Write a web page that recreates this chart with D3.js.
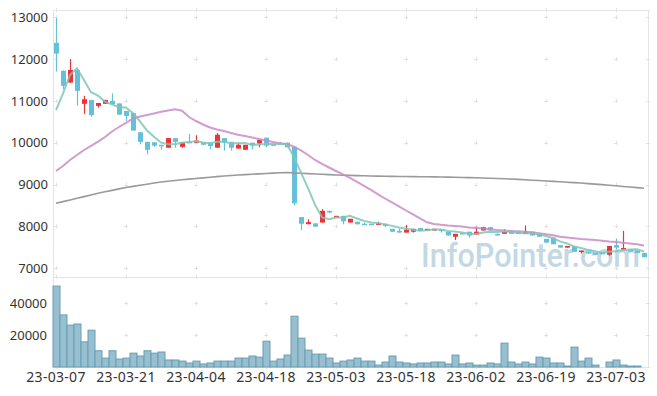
<!DOCTYPE html>
<html>
<head>
<meta charset="utf-8">
<script src="https://cdn.jsdelivr.net/npm/d3@7"></script>
<style>
  body { margin: 0; background: #fff; }
  text { font-family: "Noto Sans", sans-serif; fill: #333; }
</style>
</head>
<body>
<div id="chart"></div>
<script>

var dates = ["23-03-07","23-03-08","23-03-09","23-03-10","23-03-13","23-03-14","23-03-15","23-03-16","23-03-17","23-03-20",
  "23-03-21","23-03-22","23-03-23","23-03-24","23-03-27","23-03-28","23-03-29","23-03-30","23-03-31","23-04-03",
  "23-04-04","23-04-05","23-04-06","23-04-07","23-04-10","23-04-11","23-04-12","23-04-13","23-04-14","23-04-17",
  "23-04-18","23-04-19","23-04-20","23-04-21","23-04-24","23-04-25","23-04-26","23-04-27","23-04-28","23-05-02",
  "23-05-03","23-05-04","23-05-08","23-05-09","23-05-10","23-05-11","23-05-12","23-05-15","23-05-16","23-05-17",
  "23-05-18","23-05-19","23-05-22","23-05-23","23-05-24","23-05-25","23-05-26","23-05-30","23-05-31","23-06-01",
  "23-06-02","23-06-05","23-06-07","23-06-08","23-06-09","23-06-12","23-06-13","23-06-14","23-06-15","23-06-16",
  "23-06-19","23-06-20","23-06-21","23-06-22","23-06-23","23-06-26","23-06-27","23-06-28","23-06-29","23-06-30",
  "23-07-03","23-07-04","23-07-05","23-07-06","23-07-07"];

var open = [12390,11720,11440,11740,10930,11020,10880,10930,11000,10940,
  10760,10710,10250,10020,10010,9950,9880,10110,9900,10020,
  10000,10000,10000,9880,10110,10020,9860,9830,10000,9980,
  10120,9960,9990,10000,9900,8220,8050,8070,8090,8370,
  8210,8250,8090,8110,8060,8060,8050,8060,7940,7890,
  7850,7870,7960,7900,7900,7920,7870,7750,7840,7870,
  7800,7900,7980,7820,7820,7900,7870,7820,7870,7820,
  7700,7730,7550,7490,7520,7390,7390,7370,7370,7320,
  7550,7450,7430,7420,7360];

var high = [12980,11730,12000,11760,11120,11030,10950,11030,11180,10940,
  10760,10720,10250,10020,10010,9950,10110,10110,10010,10210,
  10180,10000,10000,10230,10110,10020,10000,9950,10000,10070,
  10120,9960,10020,10000,9900,8220,8170,8070,8410,8370,
  8250,8250,8180,8110,8090,8060,8110,8060,7940,7940,
  8030,7940,7960,7940,7940,7920,7870,7820,7840,7870,
  7990,7980,7980,7830,7930,7900,7870,8020,7870,7820,
  7700,7730,7550,7530,7520,7420,7390,7370,7370,7530,
  7710,7890,7430,7420,7360];

var low = [11700,11280,11430,10890,10690,10620,10840,10930,10920,10670,
  10520,10290,9960,9720,9900,9830,9880,9880,9880,9990,
  10000,9940,9840,9880,9810,9810,9860,9830,9840,9890,
  9890,9940,9960,9890,8500,7910,8050,7990,8090,8310,
  8210,8050,8090,8040,8050,8050,8050,7980,7870,7850,
  7850,7850,7890,7900,7900,7850,7780,7670,7820,7730,
  7800,7900,7900,7780,7820,7820,7820,7820,7780,7750,
  7610,7570,7490,7490,7390,7350,7340,7320,7330,7300,
  7450,7450,7400,7360,7260];

var close = [12130,11360,11740,11240,11040,10660,10950,11020,10920,10670,
  10640,10290,10020,9830,9930,9930,10110,10020,10010,10000,
  10050,9950,9920,10190,10000,9880,9950,9950,9940,10070,
  9930,9950,9960,9890,8550,8060,8100,7990,8370,8330,
  8250,8120,8180,8050,8050,8050,8070,8010,7870,7850,
  7920,7940,7890,7940,7940,7900,7780,7820,7820,7780,
  7870,7980,7900,7780,7870,7820,7820,7870,7780,7750,
  7610,7570,7490,7530,7390,7420,7350,7320,7330,7530,
  7490,7480,7400,7360,7260];

var volume = [50800,32700,26300,27000,15800,23100,10200,5600,10200,5000,
  5600,8700,6900,10200,8700,9400,4400,4400,3700,2500,
  3700,1900,2500,3700,3700,3700,5600,5600,6900,6200,
  16200,3700,5000,7500,31900,18100,10600,8100,8100,5600,
  2500,3700,4400,5600,3700,3700,1200,3100,6900,3100,
  2500,1900,2500,2500,3100,3100,1900,7500,1900,2500,
  1200,1200,2500,1900,15000,3100,1900,3100,1900,6200,
  5600,2500,2500,600,12500,3700,5600,1200,0,3100,
  4400,1200,600,600,0];

var ma5 = [10780,11180,11620,11780,11502,11208,11126,10982,10918,10844,
  10840,10708,10508,10290,10142,10000,9964,9964,10000,10014,
  10038,10006,9986,10022,10022,9988,9988,9994,9944,9958,
  9968,9968,9970,9960,9656,9282,8912,8518,8214,8170,
  8208,8212,8250,8186,8130,8090,8080,8046,8010,7970,
  7944,7918,7894,7908,7926,7922,7890,7876,7852,7820,
  7814,7854,7870,7862,7880,7870,7838,7832,7832,7808,
  7766,7716,7640,7590,7518,7480,7436,7402,7362,7390,
  7404,7430,7446,7452,7398];

var ma20 = [9323,9443,9587,9706,9826,9922,10024,10137,10268,10376,
  10472,10579,10627,10663,10699,10739,10770,10799,10766,10615,
  10519,10436,10364,10316,10280,10232,10189,10161,10125,10089,
  10053,10017,9988,9969,9905,9814,9706,9587,9491,9407,
  9323,9240,9156,9060,8965,8869,8766,8665,8570,8474,
  8378,8283,8192,8096,8056,8036,8020,8008,7996,7972,
  7960,7948,7932,7912,7900,7888,7881,7872,7857,7836,
  7812,7785,7752,7733,7714,7697,7685,7673,7654,7637,
  7625,7609,7590,7570,7541];

var ma120 = [8551,8590,8630,8670,8710,8750,8790,8825,8860,8895,
  8929,8955,8982,9008,9034,9060,9078,9095,9112,9128,
  9144,9159,9174,9188,9202,9216,9226,9236,9246,9255,
  9264,9272,9280,9288,9278,9268,9260,9252,9244,9236,
  9228,9223,9218,9213,9208,9204,9201,9198,9195,9192,
  9190,9188,9186,9184,9182,9180,9176,9172,9168,9164,
  9161,9155,9150,9144,9138,9132,9122,9112,9103,9094,
  9084,9074,9065,9055,9045,9036,9022,9009,8996,8982,
  8969,8954,8940,8925,8910];

var priceTicks = [7000, 8000, 9000, 10000, 11000, 12000, 13000];
var volTicks = [20000, 40000];

var svg_dx = 657, svg_dy = 396,
    left = 53, right = 648,
    priceTop = 10, priceBottom = 277,
    volBottom = 367;

var svg = d3.select("#chart")
            .append("svg")
            .attr("width", svg_dx)
            .attr("height", svg_dy);

var x = d3.scaleBand().domain(dates).range([left - 0.5, right - 0.5]);
var cx = i => x(dates[i]) + x.bandwidth() / 2;

var y = d3.scaleLinear().domain([7000, 13000]).range([268.1, 17.3]);
var yv = d3.scaleLinear().domain([0, 40000]).range([volBottom, 303.3]);

var tickDates = dates.filter((d, i) => i % 10 == 0);

// watermark sits behind everything
svg.append("text")
   .attr("x", 421)
   .attr("y", 266.5)
   .attr("textLength", 219)
   .attr("lengthAdjust", "spacingAndGlyphs")
   .style("font-family", "Roboto, sans-serif")
   .style("font-size", "33px")
   .style("font-weight", 500)
   .style("fill", "#c3d8e4")
   .text("InfoPointer.com");

// grid crosses
var gridYs = priceTicks.map(v => y(v)).concat(volTicks.map(v => yv(v)), [priceTop, priceBottom, volBottom]);
var gridXs = tickDates.map(d => x(d) + x.bandwidth() / 2);
var crosses = svg.append("g").attr("stroke", "#e2e2e2").attr("stroke-width", 1);
gridXs.forEach(gx => {
    gridYs.forEach(gy => {
        crosses.append("line").attr("x1", gx - 2).attr("x2", gx + 2).attr("y1", Math.round(gy) + 0.5).attr("y2", Math.round(gy) + 0.5);
        crosses.append("line").attr("x1", Math.round(gx) + 0.5).attr("x2", Math.round(gx) + 0.5).attr("y1", gy - 2).attr("y2", gy + 2);
    });
});
gridYs.forEach(gy => {
    crosses.append("line").attr("x1", right - 2).attr("x2", right + 2).attr("y1", Math.round(gy) + 0.5).attr("y2", Math.round(gy) + 0.5);
});

// frame
var frame = svg.append("g").attr("stroke", "#e4e4e4").attr("fill", "none");
frame.append("rect")
     .attr("x", left + 0.5).attr("y", priceTop + 0.5)
     .attr("width", right - left).attr("height", volBottom - priceTop);
frame.append("line")
     .attr("x1", left).attr("x2", right + 1)
     .attr("y1", priceBottom + 0.5).attr("y2", priceBottom + 0.5);

// volume bars
svg.append("g")
   .selectAll("rect")
   .data(volume)
   .enter()
   .append("rect")
   .attr("x", (d, i) => x(dates[i]) + 0.5)
   .attr("y", d => yv(d))
   .attr("width", x.bandwidth())
   .attr("height", d => volBottom - yv(d))
   .style("fill", "#97bfcf")
   .style("stroke", "#6a9db3")
   .style("stroke-width", 1)
   .style("display", d => d > 0 ? null : "none");

// candles
var candles = svg.append("g")
                 .selectAll("g")
                 .data(dates)
                 .enter()
                 .append("g")
                 .style("fill", (d, i) => close[i] >= open[i] ? "#ee3338" : "#66c0da")
                 .style("stroke", (d, i) => close[i] >= open[i] ? "#ee3338" : "#66c0da");

candles.append("line")
       .attr("x1", (d, i) => Math.round(cx(i)) + 0.5)
       .attr("x2", (d, i) => Math.round(cx(i)) + 0.5)
       .attr("y1", (d, i) => y(high[i]))
       .attr("y2", (d, i) => y(low[i]))
       .style("stroke-width", 1.2);

candles.append("rect")
       .attr("x", (d, i) => Math.round(cx(i)) - 2)
       .attr("y", (d, i) => y(Math.max(open[i], close[i])))
       .attr("width", 5)
       .attr("height", (d, i) => Math.max(1.5, Math.abs(y(open[i]) - y(close[i]))))
       .style("stroke", "none");

// moving averages
var line = d3.line().x((d, i) => cx(i)).y(d => y(d));

svg.append("path").datum(ma120).attr("d", line)
   .style("fill", "none").style("stroke", "#9a9a9a").style("stroke-width", 1.6);
svg.append("path").datum(ma20).attr("d", line)
   .style("fill", "none").style("stroke", "#c98bc6").style("stroke-width", 2).style("opacity", 0.85);
svg.append("path").datum(ma5).attr("d", line)
   .style("fill", "none").style("stroke", "#7fc6b6").style("stroke-width", 2).style("opacity", 0.85);

// y labels
svg.append("g")
   .selectAll("text")
   .data(priceTicks)
   .enter()
   .append("text")
   .attr("x", 48)
   .attr("y", d => y(d))
   .attr("dy", "0.36em")
   .attr("text-anchor", "end")
   .style("font-size", "13px")
   .text(d => d);

svg.append("g")
   .selectAll("text")
   .data(volTicks)
   .enter()
   .append("text")
   .attr("x", 47)
   .attr("y", d => yv(d))
   .attr("dy", "0.36em")
   .attr("text-anchor", "end")
   .style("font-size", "13px")
   .text(d => d);

// x labels
svg.append("g")
   .selectAll("text")
   .data(tickDates)
   .enter()
   .append("text")
   .attr("x", d => x(d) + x.bandwidth() / 2)
   .attr("y", 381.5)
   .attr("text-anchor", "middle")
   .style("font-size", "14px")
   .style("letter-spacing", "0.3px")
   .text(d => d);

</script>
</body>
</html>
